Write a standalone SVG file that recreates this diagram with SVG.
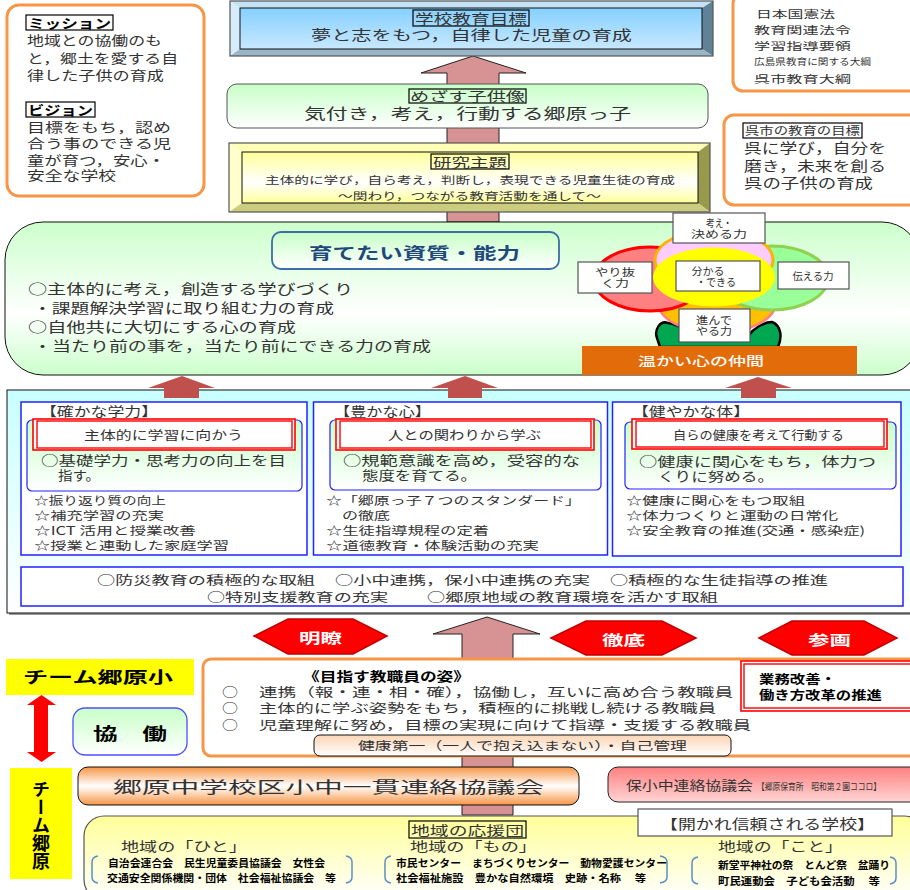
<svg xmlns="http://www.w3.org/2000/svg" width="910" height="890" viewBox="0 0 910 890">
<style>
text{font-family:"Noto Sans CJK JP","Noto Sans CJK SC",sans-serif;fill:#333}
.b{font-weight:700;fill:#000}
.w{fill:#fff;font-weight:500}
.wb{fill:#fff;font-weight:700}
.c{text-anchor:middle}
.o{fill:#fff;stroke:#f79646;stroke-width:3}
.tag{fill:none;stroke:#000;stroke-width:1.2}
.blue{fill:#fff;stroke:#2222ff;stroke-width:1.5}
.hex{fill:#f00;stroke:#c00000;stroke-width:1.5}
.up{fill:#d79393;stroke:#222;stroke-width:1}
.red{fill:#c0504d}
.lab{fill:#fff;stroke:#555;stroke-width:1.2}
.br{fill:none;stroke:#5b8fc8;stroke-width:1.5}
.r1{fill:#fff;stroke:#f00;stroke-width:1.6}
.r2{fill:none;stroke:#f00;stroke-width:1.4}
</style>
<defs>
<linearGradient id="gBlue" x1="0" y1="0" x2="0" y2="1"><stop offset="0" stop-color="#85d0ff"/><stop offset="1" stop-color="#c8e8ff"/></linearGradient>
<linearGradient id="gGreen" x1="0" y1="0" x2="0" y2="1"><stop offset="0" stop-color="#c8ffc8"/><stop offset="1" stop-color="#fff"/></linearGradient>
<linearGradient id="gBig" x1="0" y1="0" x2="0" y2="1"><stop offset="0" stop-color="#ccffcc"/><stop offset=".6" stop-color="#fff"/><stop offset="1" stop-color="#ccffcc"/></linearGradient>
<linearGradient id="gYel" x1="0" y1="0" x2="0" y2="1"><stop offset="0" stop-color="#ffff99"/><stop offset=".6" stop-color="#fff"/><stop offset="1" stop-color="#ffff99"/></linearGradient>
<linearGradient id="gYel2" x1="0" y1="0" x2="0" y2="1"><stop offset="0" stop-color="#ffff99"/><stop offset="1" stop-color="#fff"/></linearGradient>
<linearGradient id="gCyan" x1="0" y1="0" x2="0" y2="1"><stop offset="0" stop-color="#c8ffff"/><stop offset="1" stop-color="#fff"/></linearGradient>
<linearGradient id="gOr" x1="0" y1="0" x2="0" y2="1"><stop offset="0" stop-color="#f79646"/><stop offset=".5" stop-color="#fff"/><stop offset="1" stop-color="#f79646"/></linearGradient>
<linearGradient id="gPink" x1="0" y1="0" x2="0" y2="1"><stop offset="0" stop-color="#ff8080"/><stop offset="1" stop-color="#ffd4d4"/></linearGradient>
<linearGradient id="gPeach" x1="0" y1="0" x2="0" y2="1"><stop offset="0" stop-color="#fbd5b5"/><stop offset="1" stop-color="#fff"/></linearGradient>
</defs>

<g id="connectors">
<polygon class="up" points="473,56 526,73 499,73 499,222 447,222 447,73 421,73"/>
<polygon class="up" points="487,617 540,634 513,634 513,815 462,815 462,634 433,634"/>
<polygon fill="#f00" points="41.500,695 56,705 48,705 48,752 56,752 41.500,762 27,752 34,752 34,705 27,705"/>
</g>

<g id="mission">
<rect class="o" x="7" y="5" width="197" height="191" rx="12"/>
<rect class="tag" x="26" y="15" width="87" height="15"/>
<text class="b" x="28" y="28" font-size="13" textLength="83" lengthAdjust="spacingAndGlyphs">ミッション</text>
<text x="27" y="45" font-size="13" textLength="135" lengthAdjust="spacingAndGlyphs">地域との協働のも</text>
<text x="27" y="63" font-size="13" textLength="151" lengthAdjust="spacingAndGlyphs">と，郷土を愛する自</text>
<text x="27" y="80" font-size="13" textLength="137" lengthAdjust="spacingAndGlyphs">律した子供の育成</text>
<rect class="tag" x="26" y="102" width="69" height="15"/>
<text class="b" x="28" y="115" font-size="13" textLength="65" lengthAdjust="spacingAndGlyphs">ビジョン</text>
<text x="27" y="132" font-size="13" textLength="144" lengthAdjust="spacingAndGlyphs">目標をもち，認め</text>
<text x="27" y="148" font-size="13" textLength="144" lengthAdjust="spacingAndGlyphs">合う事のできる児</text>
<text x="27" y="165" font-size="13" textLength="138" lengthAdjust="spacingAndGlyphs">童が育つ，安心・</text>
<text x="27" y="180" font-size="13" textLength="89" lengthAdjust="spacingAndGlyphs">安全な学校</text>
</g>

<g id="goal">
<polygon fill="#c4e2f6" points="230,1 713,1 702,8 240,8"/>
<polygon fill="#d6ecfa" points="230,1 240,8 240,49 230,56"/>
<polygon fill="#5f8296" points="713,1 713,56 702,49 702,8"/>
<polygon fill="#9ab5c8" points="230,56 240,49 702,49 713,56"/>
<rect x="230" y="1" width="483" height="55" fill="none" stroke="#555" stroke-width="1.2"/>
<rect x="240" y="8" width="462" height="41" fill="url(#gBlue)" stroke="#111" stroke-width="1"/>
<rect class="tag" x="413" y="10" width="116" height="16"/>
<text x="415" y="24" font-size="14" textLength="112" lengthAdjust="spacingAndGlyphs">学校教育目標</text>
<text x="311" y="40" font-size="13.500" textLength="321" lengthAdjust="spacingAndGlyphs">夢と志をもつ，自律した児童の育成</text>
</g>

<g id="child">
<rect x="227" y="84" width="481" height="44" rx="10" fill="url(#gGreen)" stroke="#555" stroke-width="1"/>
<rect class="tag" x="409" y="89" width="117" height="14"/>
<text x="410" y="101" font-size="13" textLength="115" lengthAdjust="spacingAndGlyphs">めざす子供像</text>
<text x="304" y="119" font-size="14.500" textLength="327" lengthAdjust="spacingAndGlyphs">気付き，考え，行動する郷原っ子</text>
</g>

<g id="theme">
<polygon fill="#ffffb8" points="229,143 710,143 698,152 242,152"/>
<polygon fill="#ffffcc" points="229,143 242,152 242,203 229,212"/>
<polygon fill="#99994d" points="710,143 710,212 698,203 698,152"/>
<polygon fill="#cccc80" points="229,212 242,203 698,203 710,212"/>
<rect x="229" y="143" width="481" height="69" fill="none" stroke="#555" stroke-width="1.2"/>
<rect x="242" y="152" width="456" height="51" fill="url(#gYel)" stroke="#111" stroke-width="1"/>
<rect class="tag" x="431" y="154" width="78" height="15"/>
<text x="433" y="167" font-size="13" textLength="74" lengthAdjust="spacingAndGlyphs">研究主題</text>
<text x="265" y="184" font-size="10.500" textLength="410" lengthAdjust="spacingAndGlyphs">主体的に学び，自ら考え，判断し，表現できる児童生徒の育成</text>
<text x="338" y="200" font-size="10.500" textLength="263" lengthAdjust="spacingAndGlyphs">～関わり，つながる教育活動を通して～</text>
</g>

<g id="law">
<rect class="o" x="733" y="-6" width="190" height="97" rx="10"/>
<text x="756" y="18" font-size="10.500" textLength="79" lengthAdjust="spacingAndGlyphs">日本国憲法</text>
<text x="754" y="34" font-size="10.500" textLength="97" lengthAdjust="spacingAndGlyphs">教育関連法令</text>
<text x="754" y="50" font-size="10.500" textLength="97" lengthAdjust="spacingAndGlyphs">学習指導要領</text>
<text x="754" y="65" font-size="9" textLength="117" lengthAdjust="spacingAndGlyphs">広島県教育に関する大綱</text>
<text x="754" y="83" font-size="10.500" textLength="97" lengthAdjust="spacingAndGlyphs">呉市教育大綱</text>
</g>

<g id="kure">
<rect class="o" x="724" y="115" width="195" height="90" rx="10"/>
<rect class="tag" x="743" y="123" width="119" height="15"/>
<text x="745" y="135" font-size="11" textLength="115" lengthAdjust="spacingAndGlyphs">呉市の教育の目標</text>
<text x="744" y="153" font-size="13.500" textLength="142" lengthAdjust="spacingAndGlyphs">呉に学び，自分を</text>
<text x="744" y="171" font-size="13.500" textLength="142" lengthAdjust="spacingAndGlyphs">磨き，未来を創る</text>
<text x="744" y="188" font-size="13.500" textLength="129" lengthAdjust="spacingAndGlyphs">呉の子供の育成</text>
</g>

<g id="abilities">
<rect x="5" y="222" width="915" height="153" rx="38" fill="url(#gBig)" stroke="#111" stroke-width="1"/>
<rect x="272" y="232" width="287" height="37" rx="9" fill="url(#gGreen)" stroke="#3a6ea5" stroke-width="1.800"/>
<text class="b" x="309" y="259" font-size="16" textLength="211" lengthAdjust="spacingAndGlyphs" style="fill:#1f497d">育てたい資質・能力</text>
<text x="28" y="294" font-size="13.500" textLength="325" lengthAdjust="spacingAndGlyphs">○主体的に考え，創造する学びづくり</text>
<text x="33" y="313" font-size="13.500" textLength="301" lengthAdjust="spacingAndGlyphs">・課題解決学習に取り組む力の育成</text>
<text x="28" y="332" font-size="13.500" textLength="268" lengthAdjust="spacingAndGlyphs">○自他共に大切にする心の育成</text>
<text x="33" y="351" font-size="13.500" textLength="398" lengthAdjust="spacingAndGlyphs">・当たり前の事を，当たり前にできる力の育成</text>
</g>

<g id="flower">
<path d="M668,323 C660,320 654,330 657,338 L660,347 H778 C782,338 782,326 772,322 C764,322 754,328 748,336 L700,340 C690,332 678,324 668,323 Z" fill="#00a650" stroke="#000" stroke-width="2.500"/>
<ellipse cx="717" cy="302" rx="59" ry="31" fill="#ffc000" stroke="#ff8080" stroke-width="2.500"/>
<ellipse cx="650" cy="279" rx="56" ry="32" fill="#ff8080" stroke="#f00" stroke-width="3"/>
<ellipse cx="772" cy="278" rx="56" ry="32" fill="#99ff99" stroke="#92d050" stroke-width="3"/>
<ellipse cx="714" cy="260" rx="59" ry="30" fill="#ffccff" stroke="#ffb000" stroke-width="3"/>
<ellipse cx="714" cy="277" rx="61" ry="29.500" fill="#ff0"/>
<rect class="lab" x="673" y="213" width="92" height="30"/>
<text class="c" font-size="10.500"><tspan x="719" y="227" textLength="26" lengthAdjust="spacingAndGlyphs">考え・</tspan><tspan x="719" y="238" textLength="56" lengthAdjust="spacingAndGlyphs">決める力</tspan></text>
<rect class="lab" x="578" y="262" width="74" height="31"/>
<text class="c" font-size="10.500"><tspan x="615" y="276" textLength="40" lengthAdjust="spacingAndGlyphs">やり抜</tspan><tspan x="615" y="287" textLength="28" lengthAdjust="spacingAndGlyphs">く力</tspan></text>
<rect class="lab" x="676" y="261" width="84" height="30"/>
<text class="c" font-size="10.500"><tspan x="708" y="275" textLength="33" lengthAdjust="spacingAndGlyphs">分かる</tspan><tspan x="716" y="286" textLength="40" lengthAdjust="spacingAndGlyphs">・できる</tspan></text>
<rect class="lab" x="778" y="262" width="71" height="27"/>
<text class="c" x="813" y="280" font-size="10.500" textLength="41" lengthAdjust="spacingAndGlyphs">伝える力</text>
<rect class="lab" x="679" y="309" width="71" height="33"/>
<text class="c" font-size="10.500"><tspan x="714" y="324" textLength="36" lengthAdjust="spacingAndGlyphs">進んで</tspan><tspan x="714" y="335" textLength="36" lengthAdjust="spacingAndGlyphs">やる力</tspan></text>
<rect x="582" y="346" width="275" height="29" fill="#e36c0a"/>
<text class="w" x="638" y="366" font-size="12.500" textLength="126" lengthAdjust="spacingAndGlyphs">温かい心の仲間</text>
</g>

<g id="main-panel">
<rect x="9" y="392" width="908" height="223" fill="#999"/>
<rect x="7" y="390" width="908" height="223" fill="url(#gCyan)" stroke="#111" stroke-width="1"/>
</g>

<g id="connectors-upper">
<polygon class="red" points="182,376 215,388 199,388 199,398 164,398 164,388 148,388"/>
<polygon class="red" points="465,376 498,388 482,388 482,398 448,398 448,388 431,388"/>
<polygon class="red" points="758,377 792,388 776,388 776,398 741,398 741,388 725,388"/>
</g>

<g id="manabi">
<rect class="blue" x="21" y="402" width="286" height="153"/>
<text x="40" y="416" font-size="13" textLength="118" lengthAdjust="spacingAndGlyphs">【確かな学力】</text>
<rect x="27" y="420" width="275" height="71" rx="5" fill="url(#gGreen)" stroke="#2222ff" stroke-width="1.200"/>
<rect class="r1" x="33" y="419" width="262" height="31"/>
<rect class="r2" x="37" y="421" width="255" height="27"/>
<text x="84" y="440" font-size="12.500" textLength="159" lengthAdjust="spacingAndGlyphs">主体的に学習に向かう</text>
<text x="41" y="465" font-size="13" textLength="245" lengthAdjust="spacingAndGlyphs">○基礎学力・思考力の向上を目</text>
<text x="58" y="480" font-size="13" textLength="42" lengthAdjust="spacingAndGlyphs">指す。</text>
<text x="34" y="505" font-size="11.500" textLength="132" lengthAdjust="spacingAndGlyphs">☆振り返り質の向上</text>
<text x="34" y="520" font-size="11.500" textLength="130" lengthAdjust="spacingAndGlyphs">☆補充学習の充実</text>
<text x="34" y="535" font-size="11.500" textLength="162" lengthAdjust="spacingAndGlyphs">☆ICT 活用と授業改善</text>
<text x="34" y="550" font-size="11.500" textLength="195" lengthAdjust="spacingAndGlyphs">☆授業と連動した家庭学習</text>
</g>

<g id="kokoro">
<rect class="blue" x="313.500" y="402" width="294" height="153"/>
<text x="334" y="416" font-size="13" textLength="97" lengthAdjust="spacingAndGlyphs">【豊かな心】</text>
<rect x="330" y="420" width="271" height="70" rx="5" fill="url(#gGreen)" stroke="#2222ff" stroke-width="1.200"/>
<rect class="r1" x="336" y="419" width="258" height="31"/>
<rect class="r2" x="340" y="421" width="251" height="27"/>
<text x="388" y="440" font-size="12.500" textLength="153" lengthAdjust="spacingAndGlyphs">人との関わりから学ぶ</text>
<text x="343" y="465" font-size="13" textLength="237" lengthAdjust="spacingAndGlyphs">○規範意識を高め，受容的な</text>
<text x="362" y="480" font-size="13" textLength="115" lengthAdjust="spacingAndGlyphs">態度を育てる。</text>
<text x="326" y="505" font-size="11.500" textLength="255" lengthAdjust="spacingAndGlyphs">☆「郷原っ子７つのスタンダード」</text>
<text x="342" y="520" font-size="11.500" textLength="48" lengthAdjust="spacingAndGlyphs">の徹底</text>
<text x="326" y="535" font-size="11.500" textLength="163" lengthAdjust="spacingAndGlyphs">☆生徒指導規程の定着</text>
<text x="326" y="550" font-size="11.500" textLength="213" lengthAdjust="spacingAndGlyphs">☆道徳教育・体験活動の充実</text>
</g>

<g id="karada">
<rect class="blue" x="612.500" y="402" width="288.500" height="154"/>
<text x="632" y="416" font-size="13" textLength="118" lengthAdjust="spacingAndGlyphs">【健やかな体】</text>
<rect x="625" y="422" width="271" height="67" rx="5" fill="url(#gGreen)" stroke="#2222ff" stroke-width="1.200"/>
<rect class="r1" x="632" y="419" width="255" height="30"/>
<rect class="r2" x="636" y="421" width="248" height="26"/>
<text x="673" y="440" font-size="12.500" textLength="171" lengthAdjust="spacingAndGlyphs">自らの健康を考えて行動する</text>
<text x="639" y="466" font-size="13" textLength="237" lengthAdjust="spacingAndGlyphs">○健康に関心をもち，体力つ</text>
<text x="658" y="481" font-size="13" textLength="116" lengthAdjust="spacingAndGlyphs">くりに努める。</text>
<text x="626" y="505" font-size="11.500" textLength="179" lengthAdjust="spacingAndGlyphs">☆健康に関心をもつ取組</text>
<text x="626" y="520" font-size="11.500" textLength="212" lengthAdjust="spacingAndGlyphs">☆体力つくりと運動の日常化</text>
<text x="626" y="535" font-size="11.500" textLength="239" lengthAdjust="spacingAndGlyphs">☆安全教育の推進(交通・感染症)</text>
</g>

<g id="common">
<rect class="blue" x="21" y="567" width="882" height="39"/>
<text x="97" y="585" font-size="12" textLength="218" lengthAdjust="spacingAndGlyphs">○防災教育の積極的な取組</text>
<text x="335" y="585" font-size="12" textLength="255" lengthAdjust="spacingAndGlyphs">○小中連携，保小中連携の充実</text>
<text x="610" y="585" font-size="12" textLength="218" lengthAdjust="spacingAndGlyphs">○積極的な生徒指導の推進</text>
<text x="207" y="602" font-size="12" textLength="181" lengthAdjust="spacingAndGlyphs">○特別支援教育の充実</text>
<text x="427" y="602" font-size="12" textLength="291" lengthAdjust="spacingAndGlyphs">○郷原地域の教育環境を活かす取組</text>
</g>

<g id="meiryo">
<polygon class="hex" points="254,636 288,619 353,619 387,636 353,654 288,654"/>
<text class="wb" x="299" y="643" font-size="14" textLength="43" lengthAdjust="spacingAndGlyphs">明瞭</text>
</g>
<g id="tettei">
<polygon class="hex" points="551,638 586,621 662,621 696,638 662,655 586,655"/>
<text class="wb" x="602" y="645" font-size="14" textLength="43" lengthAdjust="spacingAndGlyphs">徹底</text>
</g>
<g id="sankaku">
<polygon class="hex" points="759,638 792,621 864,621 897,638 864,655 792,655"/>
<text class="wb" x="808" y="645" font-size="14" textLength="43" lengthAdjust="spacingAndGlyphs">参画</text>
</g>

<g id="team-school">
<rect x="6" y="659" width="188" height="36" fill="#ff0"/>
<text class="b" x="23" y="683" font-size="15.500" textLength="150" lengthAdjust="spacingAndGlyphs">チーム郷原小</text>
</g>

<g id="kyodo">
<rect x="73" y="708" width="114" height="47" rx="12" fill="url(#gGreen)" stroke="#4f4fff" stroke-width="1.300"/>
<text class="b" x="93" y="740" font-size="17" textLength="74" lengthAdjust="spacingAndGlyphs">協　働</text>
</g>

<g id="staff">
<rect class="o" x="203" y="659" width="720" height="97" rx="8"/>
<text class="b" x="303" y="681" font-size="13" textLength="167" lengthAdjust="spacingAndGlyphs">《目指す教職員の姿》</text>
<text x="222" y="697" font-size="12.500" textLength="16" lengthAdjust="spacingAndGlyphs">○</text>
<text x="259" y="697" font-size="12.500" textLength="474" lengthAdjust="spacingAndGlyphs">連携（報・連・相・確），協働し，互いに高め合う教職員</text>
<text x="222" y="713" font-size="12.500" textLength="16" lengthAdjust="spacingAndGlyphs">○</text>
<text x="259" y="713" font-size="12.500" textLength="457" lengthAdjust="spacingAndGlyphs">主体的に学ぶ姿勢をもち，積極的に挑戦し続ける教職員</text>
<text x="222" y="730" font-size="12.500" textLength="16" lengthAdjust="spacingAndGlyphs">○</text>
<text x="259" y="730" font-size="12.500" textLength="492" lengthAdjust="spacingAndGlyphs">児童理解に努め，目標の実現に向けて指導・支援する教職員</text>
<rect x="314" y="735" width="417" height="21" rx="6" fill="url(#gPeach)" stroke="#111" stroke-width="1"/>
<text x="358" y="750" font-size="11.500" textLength="329" lengthAdjust="spacingAndGlyphs">健康第一（一人で抱え込まない）・自己管理</text>
</g>

<g id="reform">
<rect class="r1" x="741" y="661" width="180" height="50"/>
<rect class="r2" x="744" y="664" width="175" height="44"/>
<text class="b" x="759" y="684" font-size="12.500" textLength="77" lengthAdjust="spacingAndGlyphs">業務改善・</text>
<text class="b" x="759" y="700" font-size="12.500" textLength="123" lengthAdjust="spacingAndGlyphs">働き方改革の推進</text>
</g>

<g id="team-area">
<rect x="10" y="768" width="62" height="111" fill="#ff0"/>
<text class="b" x="41" y="780" font-size="18" style="writing-mode:vertical-rl">チーム郷原</text>
</g>

<g id="junior">
<rect x="78" y="767" width="501" height="38" rx="10" fill="url(#gOr)" stroke="#111" stroke-width="1"/>
<text x="113" y="793" font-size="16" textLength="431" lengthAdjust="spacingAndGlyphs">郷原中学校区小中一貫連絡協議会</text>
</g>

<g id="hoshochu">
<rect x="608" y="767" width="312" height="35" rx="10" fill="url(#gPink)" stroke="#222" stroke-width="1"/>
<text x="626" y="790" font-size="13" textLength="127" lengthAdjust="spacingAndGlyphs">保小中連絡協議会</text>
<text x="757" y="790" font-size="9.500" textLength="124" lengthAdjust="spacingAndGlyphs">【郷原保育所　昭和第２園ココロ】</text>
</g>

<g id="community">
<rect x="84" y="816" width="840" height="84" rx="20" fill="url(#gYel2)" stroke="#555" stroke-width="1.200"/>
<rect class="tag" x="409" y="821" width="117" height="17"/>
<text x="411" y="835" font-size="13" textLength="113" lengthAdjust="spacingAndGlyphs">地域の応援団</text>
<text x="121" y="851" font-size="13" textLength="126" lengthAdjust="spacingAndGlyphs">地域の「ひと」</text>
<text x="410" y="851" font-size="13" textLength="127" lengthAdjust="spacingAndGlyphs">地域の「もの」</text>
<text x="718" y="851" font-size="13" textLength="125" lengthAdjust="spacingAndGlyphs">地域の「こと」</text>
<path class="br" d="M98,856 Q92,857 92,862 V877 Q92,882 98,883"/>
<path class="br" d="M346,856 Q352,857 352,862 V877 Q352,882 346,883"/>
<text class="b" x="108" y="867" font-size="10" textLength="217" lengthAdjust="spacingAndGlyphs">自治会連合会　民生児童委員協議会　女性会</text>
<text class="b" x="107" y="882" font-size="10" textLength="229" lengthAdjust="spacingAndGlyphs">交通安全関係機関・団体　社会福祉協議会　等</text>
<path class="br" d="M391,856 Q385,857 385,862 V877 Q385,882 391,883"/>
<path class="br" d="M660,856 Q667,857 667,862 V877 Q667,882 660,883"/>
<text class="b" x="396" y="867" font-size="10" textLength="271" lengthAdjust="spacingAndGlyphs">市民センター　まちづくりセンター　動物愛護センター</text>
<text class="b" x="396" y="882" font-size="10" textLength="250" lengthAdjust="spacingAndGlyphs">社会福祉施設　豊かな自然環境　史跡・名称　 等</text>
<path class="br" d="M698,857 Q692,858 692,863 V878 Q692,883 698,884"/>
<path class="br" d="M890,857 Q896,858 896,863 V878 Q896,883 890,884"/>
<text class="b" x="718" y="869" font-size="10" textLength="172" lengthAdjust="spacingAndGlyphs">新堂平神社の祭　とんど祭　盆踊り</text>
<text class="b" x="718" y="885" font-size="10" textLength="162" lengthAdjust="spacingAndGlyphs">町民運動会　子ども会活動　 等</text>
</g>

<g id="open-school">
<rect class="lab" x="638" y="809" width="254" height="27"/>
<text x="660" y="829" font-size="13.500" textLength="215" lengthAdjust="spacingAndGlyphs">【開かれ信頼される学校】</text>
</g>
</svg>
